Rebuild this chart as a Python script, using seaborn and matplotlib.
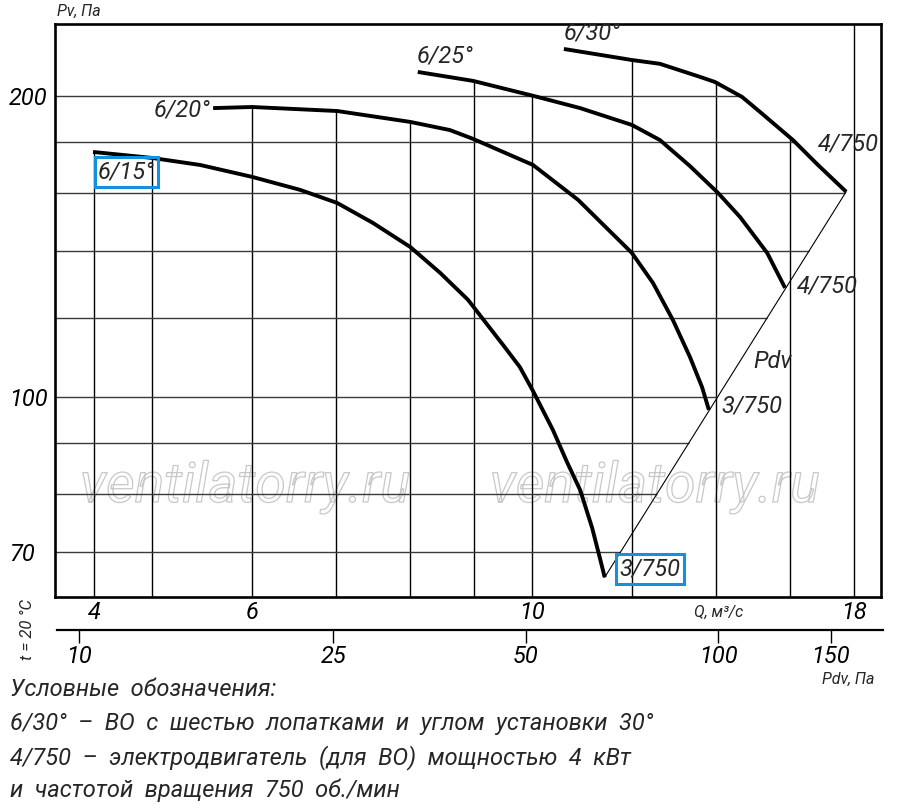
import numpy as np
import pandas as pd
import matplotlib
matplotlib.use("Agg")
import matplotlib.pyplot as plt
import matplotlib.patheffects as pe
from matplotlib.ticker import NullLocator, FixedLocator, FixedFormatter
import seaborn as sns

# ---------------- data ----------------
q_15 = [4.49, 5.00, 5.46, 6.00, 6.55, 7.01, 7.48, 8.01, 8.46, 8.90, 9.49, 9.78, 10.02, 10.39, 10.66, 10.92, 11.16, 11.32, 11.42]
p_15 = [176.0, 173.6, 170.8, 166.2, 161.3, 156.5, 149.5, 141.4, 133.2, 125.2, 112.8, 107.3, 101.5, 92.8, 86.2, 80.8, 74.1, 69.1, 66.1]

q_20 = [5.59, 6.00, 7.01, 8.01, 8.61, 8.98, 10.02, 10.88, 12.00, 12.47, 12.93, 13.34, 13.64, 13.81]
p_20 = [194.7, 195.2, 193.4, 188.6, 185.1, 181.4, 170.8, 157.6, 139.5, 130.2, 119.6, 109.8, 102.4, 97.2]

q_25 = [8.12, 8.98, 10.02, 10.92, 12.00, 12.63, 13.34, 14.04, 14.62, 15.36, 15.87]
p_25 = [211.6, 207.3, 200.3, 194.7, 187.3, 180.9, 170.4, 160.2, 151.5, 139.5, 128.7]

q_30 = [10.60, 12.00, 12.63, 13.59, 13.96, 14.67, 15.16, 16.10, 16.82, 17.74]
p_30 = [223.1, 217.5, 215.6, 209.2, 206.8, 199.8, 193.0, 180.9, 171.2, 160.6]

curve_names = ["6/15°", "6/20°", "6/25°", "6/30°"]
motor_names = ["3/750", "3/750", "4/750", "4/750"]

q_grid = [4.5, 5, 6, 7, 8, 9, 10, 12, 14, 16, 18]
p_grid = [70, 80, 90, 100, 120, 140, 160, 180, 200]

q_ticks = [4.5, 6, 10, 18]
q_ticklabels = ["4", "6", "10", "18"]
p_ticks = [70, 100, 200]
p_ticklabels = ["70", "100", "200"]
pdv_ticks = [10, 25, 50, 100, 150]
pdv_ticklabels = ["10", "25", "50", "100", "150"]

Q_LIM = (4.189, 18.905)
P_LIM = (63.17, 236.3)
PDV_LIM = (9.238, 181.2)

legend_lines = [
    "Условные  обозначения:",
    "6/30°  –  ВО  с  шестью  лопатками  и  углом  установки  30°",
    "4/750  –  электродвигатель  (для  ВО)  мощностью  4  кВт",
    "и  частотой  вращения  750  об./мин",
]

# ---------------- styling ----------------
sns.set_theme(style="white")
plt.rcParams["font.family"] = ["Roboto", "DejaVu Sans"]
plt.rcParams["font.style"] = "italic"

W, H = 900, 809
fig = plt.figure(figsize=(W / 100, H / 100), dpi=100)
fig.patch.set_facecolor("white")


def fx(px):
    return px / W


def fy(py):
    return 1 - py / H


L, R, T, B = 55, 881, 24, 597
ax = fig.add_axes([fx(L), fy(B), (R - L) / W, (B - T) / H])
ax.set_facecolor("white")
ax.set_xscale("log")
ax.set_yscale("log")
ax.set_xlim(*Q_LIM)
ax.set_ylim(*P_LIM)

curves = [(q_15, p_15), (q_20, p_20), (q_25, p_25), (q_30, p_30)]

# long table for seaborn
df = pd.concat(
    [pd.DataFrame({"Q": q, "P": p, "curve": n}) for (q, p), n in zip(curves, curve_names)],
    ignore_index=True,
)
sns.lineplot(data=df, x="Q", y="P", hue="curve", units="curve", estimator=None,
             palette=["black"] * 4, legend=False, linewidth=2.8, ax=ax, zorder=4,
             sort=False, solid_joinstyle="round", solid_capstyle="butt")

# Pdv line joining the curve ends
pdv_df = pd.DataFrame({"Q": [q_15[-1], q_30[-1]], "P": [p_15[-1], p_30[-1]]})
sns.lineplot(data=pdv_df, x="Q", y="P", color="black", linewidth=0.8,
             ax=ax, zorder=3, estimator=None, sort=False)


# ---------------- clipped grid ----------------
def env_top(q):
    vals = []
    for qc, pc in curves:
        if qc[0] <= q <= qc[-1]:
            vals.append(10 ** np.interp(np.log10(q), np.log10(qc), np.log10(pc)))
    return max(vals) if vals else P_LIM[1]


def right_end(p):
    if p >= p_30[-1]:
        lq = np.interp(np.log10(p), np.log10(p_30[::-1]), np.log10(q_30[::-1]))
    else:
        lq = np.interp(np.log10(p), np.log10([p_15[-1], p_30[-1]]),
                       np.log10([q_15[-1], q_30[-1]]))
    return 10 ** lq


for q in q_grid:
    ax.vlines(q, P_LIM[0], env_top(q), color="black", linewidth=1.0, zorder=2)
for p in p_grid:
    ax.hlines(p, Q_LIM[0], right_end(p), color="#3a3a3a", linewidth=1.0, zorder=2)

ax.grid(False)
for s in ax.spines.values():
    s.set_visible(True)
    s.set_color("black")
    s.set_linewidth(1.9)

# ticks
ax.xaxis.set_major_locator(FixedLocator(q_ticks))
ax.xaxis.set_major_formatter(FixedFormatter(q_ticklabels))
ax.xaxis.set_minor_locator(NullLocator())
ax.yaxis.set_major_locator(FixedLocator(p_ticks))
ax.yaxis.set_major_formatter(FixedFormatter(p_ticklabels))
ax.yaxis.set_minor_locator(NullLocator())
ax.tick_params(axis="x", length=0, pad=3, labelsize=17, colors="black")
ax.tick_params(axis="y", length=0, pad=33, labelsize=17, colors="black")
for lab in ax.get_yticklabels():
    lab.set_horizontalalignment("left")
ax.set_xlabel("")
ax.set_ylabel("")

# ---------------- curve labels ----------------
LBL = 17
BLUE = "#1590e0"
ax.annotate(curve_names[0], xy=(q_15[0], p_15[0]), xytext=(24, -14.5),
            textcoords="offset points", ha="center", va="center", fontsize=LBL,
            bbox=dict(boxstyle="square,pad=0.14", fc="none", ec=BLUE, lw=2.2), zorder=6)
ax.annotate(curve_names[1], xy=(q_20[0], p_20[0]), xytext=(-2, -1.5),
            textcoords="offset points", ha="right", va="center", fontsize=LBL, zorder=6)
ax.annotate(curve_names[2], xy=(q_25[0], p_25[0]), xytext=(19.5, 11.5),
            textcoords="offset points", ha="center", va="center", fontsize=LBL, zorder=6)
ax.annotate(curve_names[3], xy=(q_30[0], p_30[0]), xytext=(20.5, 11.5),
            textcoords="offset points", ha="center", va="center", fontsize=LBL, zorder=6)

ax.annotate(motor_names[3], xy=(q_30[-1], p_30[-1]), xytext=(1.5, 34.5),
            textcoords="offset points", ha="center", va="center", fontsize=LBL, zorder=6)
ax.annotate(motor_names[2], xy=(q_25[-1], p_25[-1]), xytext=(30.5, 1.4),
            textcoords="offset points", ha="center", va="center", fontsize=LBL, zorder=6)
ax.annotate(motor_names[1], xy=(q_20[-1], p_20[-1]), xytext=(31, 2.9),
            textcoords="offset points", ha="center", va="center", fontsize=LBL, zorder=6)
ax.annotate(motor_names[0], xy=(q_15[-1], p_15[-1]), xytext=(32.5, 5.8),
            textcoords="offset points", ha="center", va="center", fontsize=LBL,
            bbox=dict(boxstyle="square,pad=0.14", fc="none", ec=BLUE, lw=2.2), zorder=6)
ax.annotate("Pdv", xy=(q_20[-1], p_20[-1]), xytext=(45.5, 34.5),
            textcoords="offset points", ha="center", va="center", fontsize=LBL, zorder=6)

# watermark (outline only)
for xa in (0.230, 0.726):
    ax.text(xa, 0.192, "ventilatorry.ru", transform=ax.transAxes, ha="center", va="center",
            fontsize=40, color=(1, 1, 1, 0), zorder=1.5,
            path_effects=[pe.Stroke(linewidth=0.9, foreground="#c8c8c8")])

# ---------------- secondary Pdv axis ----------------
ax2 = fig.add_axes([fx(57), fy(630), (883 - 57) / W, 0.0005])
ax2.set_xscale("log")
ax2.set_xlim(*PDV_LIM)
ax2.set_yticks([])
for k in ("top", "left", "right"):
    ax2.spines[k].set_visible(False)
ax2.spines["bottom"].set_color("black")
ax2.spines["bottom"].set_linewidth(1.6)
ax2.xaxis.set_major_locator(FixedLocator(pdv_ticks))
ax2.xaxis.set_major_formatter(FixedFormatter(pdv_ticklabels))
ax2.xaxis.set_minor_locator(NullLocator())
ax2.tick_params(axis="x", direction="out", length=9, width=1.0, pad=2, labelsize=17,
                colors="black", bottom=True)
ax2.set_facecolor("none")

# ---------------- free texts ----------------
fig.text(fx(79), fy(11), "Pv, Па", ha="center", va="center", fontsize=11.5)
fig.text(fx(719), fy(612), "Q, м³/с", ha="center", va="center", fontsize=11.5)
fig.text(fx(848), fy(679), "Pdv, Па", ha="center", va="center", fontsize=11.5)
fig.text(fx(28), fy(630), "t = 20 °C", ha="center", va="center", fontsize=12, rotation=90)

baselines = [696, 730, 764, 797]
for line, bl in zip(legend_lines, baselines):
    fig.text(fx(10), fy(bl), line, ha="left", va="baseline", fontsize=17)

fig.savefig("out.png", dpi=100, facecolor="white")
